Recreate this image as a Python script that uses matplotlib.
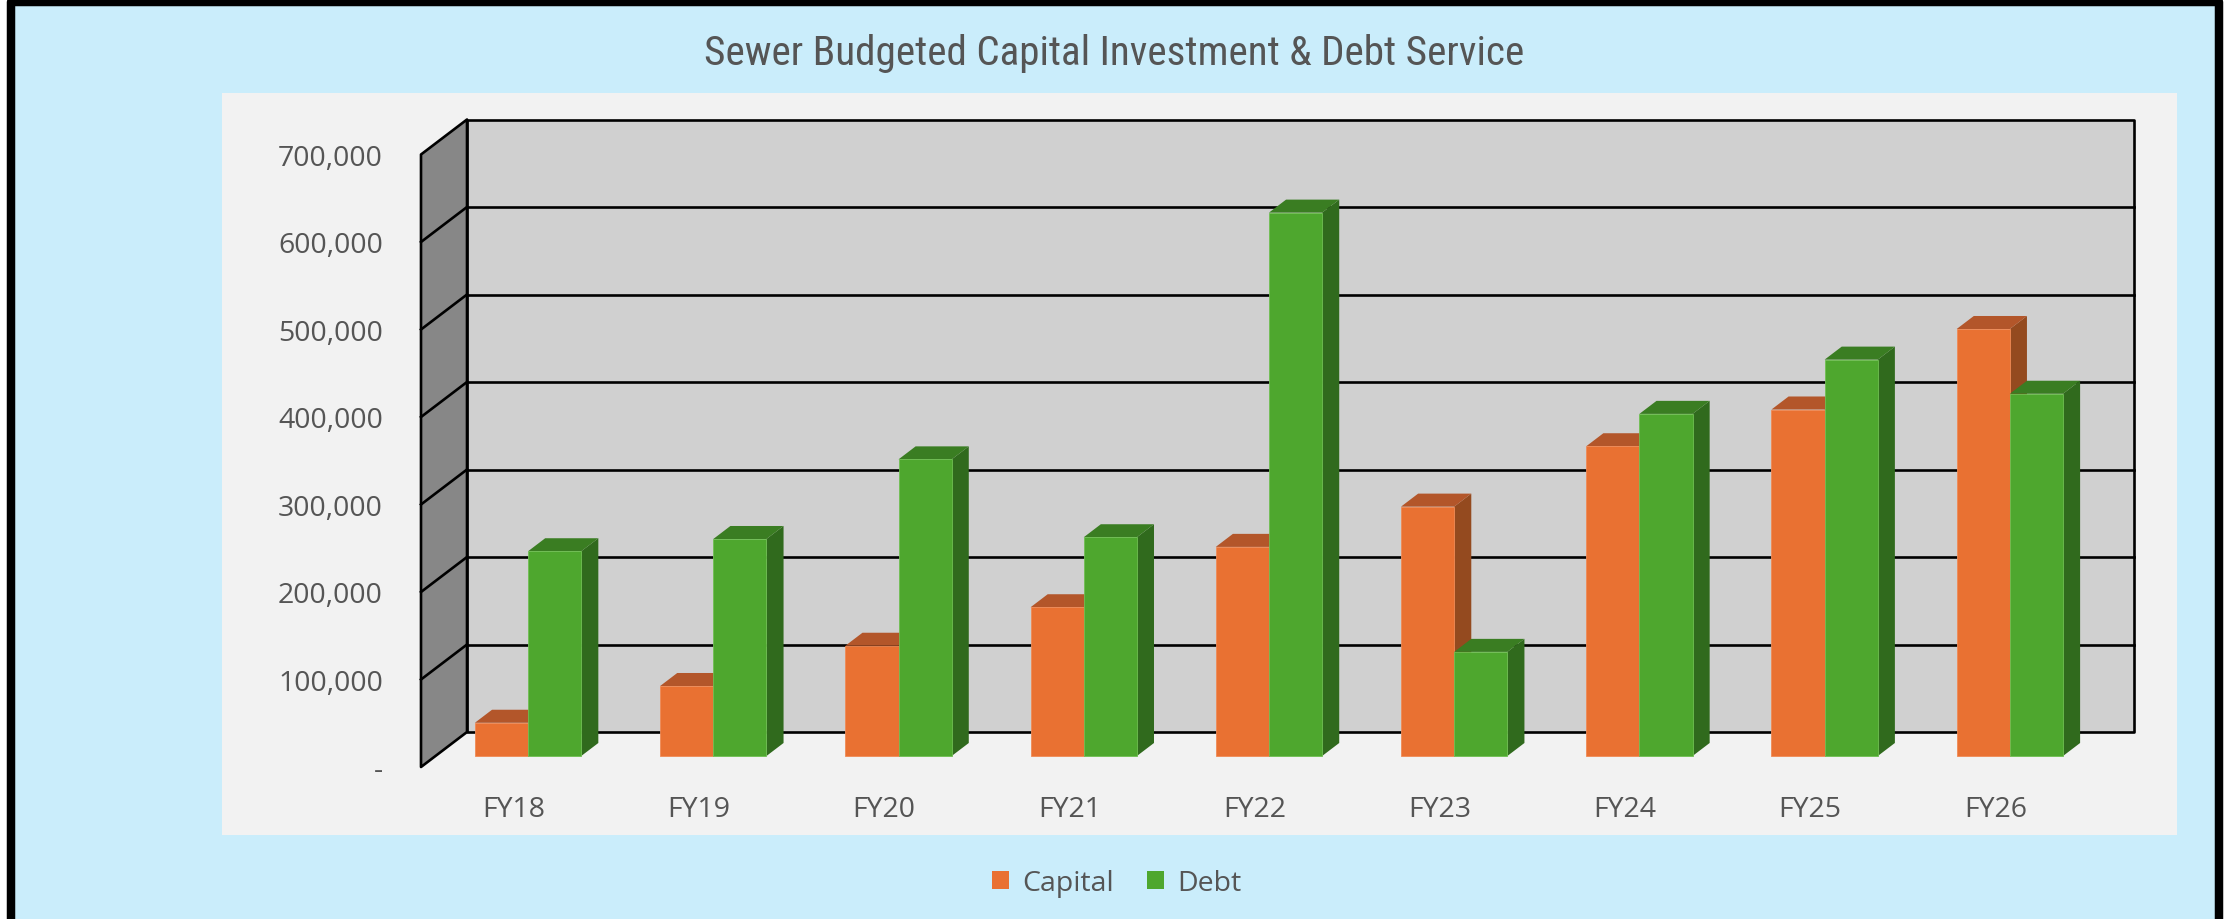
import matplotlib
matplotlib.use("Agg")
import matplotlib.pyplot as plt
from matplotlib import font_manager
from matplotlib.patches import Polygon, Rectangle, Patch
from matplotlib.ticker import FuncFormatter


# Chart data
years = ["FY18", "FY19", "FY20", "FY21", "FY22", "FY23", "FY24", "FY25", "FY26"]
capital = [38000, 80000, 126000, 170000, 239000, 285000, 354000, 396000, 488000]
debt = [234000, 248000, 339000, 250000, 621000, 119000, 391000, 453000, 414000]
series_names = ["Capital", "Debt"]
title = "Sewer Budgeted Capital Investment & Debt Service"

# Styling
ORANGE = ("#E97132", "#B3562A", "#944A1F", "#F08A55")  # front, top, side, edge
GREEN = ("#4EA72E", "#3A7D22", "#306A1D", "#6FBF52")
TEXT = "#555555"
BG = "#CAEDFB"
PANEL = "#F2F2F2"
BACK_WALL = "#D0D0D0"
SIDE_WALL = "#878787"

Y_MAX = 700000
Y_STEP = 100000
# oblique depth offset: x in category units, y in value units
DX = 0.2484
DY = 40000
D0, D1 = 0.314, 0.686   # bar depth span
BAR_W = 0.287
GRID_LW = 1.9

W, H = 2234, 920


def proj(x, y, d):
    return (x + DX * d, y + DY * d)


installed = {f.name for f in font_manager.fontManager.ttflist}
BODY_FONT = "Open Sans" if "Open Sans" in installed else "DejaVu Sans"
TITLE_FONT = next((f for f in ["Liberation Sans Narrow", "Roboto Condensed",
                               "Open Sans Condensed"] if f in installed), BODY_FONT)
plt.rcParams["font.family"] = [BODY_FONT, "DejaVu Sans"]

fig = plt.figure(figsize=(W / 100, H / 100), dpi=100)
fig.patch.set_facecolor("white")

# outer light-blue card with thick black border
frame = Rectangle((11 / W, -5 / H), 2208 / W, 922.5 / H, transform=fig.transFigure,
                  facecolor=BG, edgecolor="black", linewidth=6.1,
                  joinstyle="round", zorder=-10)
fig.add_artist(frame)

# plot area panel
panel = Rectangle((222 / W, 84 / H), 1955 / W, 742 / H, transform=fig.transFigure,
                  facecolor=PANEL, edgecolor="none", zorder=-5)
fig.add_artist(panel)

ax = fig.add_axes([421 / W, 152 / H, 1667 / W, 612.5 / H])
ax.set_xlim(-0.5, len(years) - 0.5)
ax.set_ylim(0, Y_MAX)
ax.patch.set_visible(False)
for sp in ax.spines.values():
    sp.set_visible(False)

x_left, x_right = -0.5, len(years) - 0.5

# walls
side = Polygon([proj(x_left, 0, 0), proj(x_left, Y_MAX, 0),
                proj(x_left, Y_MAX, 1), proj(x_left, 0, 1)],
               closed=True, facecolor=SIDE_WALL, edgecolor="black",
               linewidth=GRID_LW, joinstyle="round", clip_on=False, zorder=1)
back = Polygon([proj(x_left, 0, 1), proj(x_right, 0, 1),
                proj(x_right, Y_MAX, 1), proj(x_left, Y_MAX, 1)],
               closed=True, facecolor=BACK_WALL, edgecolor="black",
               linewidth=GRID_LW, joinstyle="round", clip_on=False, zorder=1)
ax.add_patch(back)
ax.add_patch(side)

# gridlines on back and side walls
for v in range(Y_STEP, Y_MAX, Y_STEP):
    bx0, by0 = proj(x_left, v, 1)
    bx1, by1 = proj(x_right, v, 1)
    ax.plot([bx0, bx1], [by0, by1], color="black", lw=GRID_LW, clip_on=False, zorder=2)
    sx0, sy0 = proj(x_left, v, 0)
    ax.plot([sx0, bx0], [sy0, by0], color="black", lw=GRID_LW, clip_on=False, zorder=2)

# 3D-looking bars, drawn left to right so nearer faces cover farther ones
for i in range(len(years)):
    for vals, cols, off in [(capital, ORANGE, -BAR_W), (debt, GREEN, 0.0)]:
        x0 = i + off
        x1 = x0 + BAR_W
        v = vals[i]
        faces = [
            ([proj(x1, 0, D0), proj(x1, v, D0), proj(x1, v, D1), proj(x1, 0, D1)], cols[2], "none"),
            ([proj(x0, v, D0), proj(x1, v, D0), proj(x1, v, D1), proj(x0, v, D1)], cols[1], "none"),
            ([proj(x0, 0, D0), proj(x1, 0, D0), proj(x1, v, D0), proj(x0, v, D0)], cols[0], cols[3]),
        ]
        for pts, fc, ec in faces:
            ax.add_patch(Polygon(pts, closed=True, facecolor=fc, edgecolor=ec,
                                 linewidth=0.6, clip_on=False, zorder=3))

ax.set_xticks(range(len(years)), years)
ax.set_yticks(range(0, Y_MAX + 1, Y_STEP))
ax.yaxis.set_major_formatter(FuncFormatter(lambda v, _: "-" if v == 0 else f"{v:,.0f}"))
ax.tick_params(axis="both", length=0, labelsize=20.5, labelcolor=TEXT)
ax.tick_params(axis="y", pad=27.4)
ax.tick_params(axis="x", pad=20.5)

# legend
handles = [Patch(facecolor=ORANGE[0]), Patch(facecolor=GREEN[0])]
fig.legend(handles, series_names, loc="center", bbox_to_anchor=(1116.5 / W, 36 / H),
           ncol=2, frameon=False, fontsize=20.5, handlelength=0.6, handleheight=0.6,
           handletextpad=0.47, columnspacing=1.15, labelcolor=TEXT)

# title, sized to the reference width
t = fig.text(1114 / W, (H - 65) / H, title, ha="center", va="baseline",
             fontsize=28, color=TEXT, family=[TITLE_FONT, "DejaVu Sans"])
fig.canvas.draw()
tw = t.get_window_extent().width
t.set_fontsize(28 * 818 / tw)

fig.savefig("out.png", dpi=100)
